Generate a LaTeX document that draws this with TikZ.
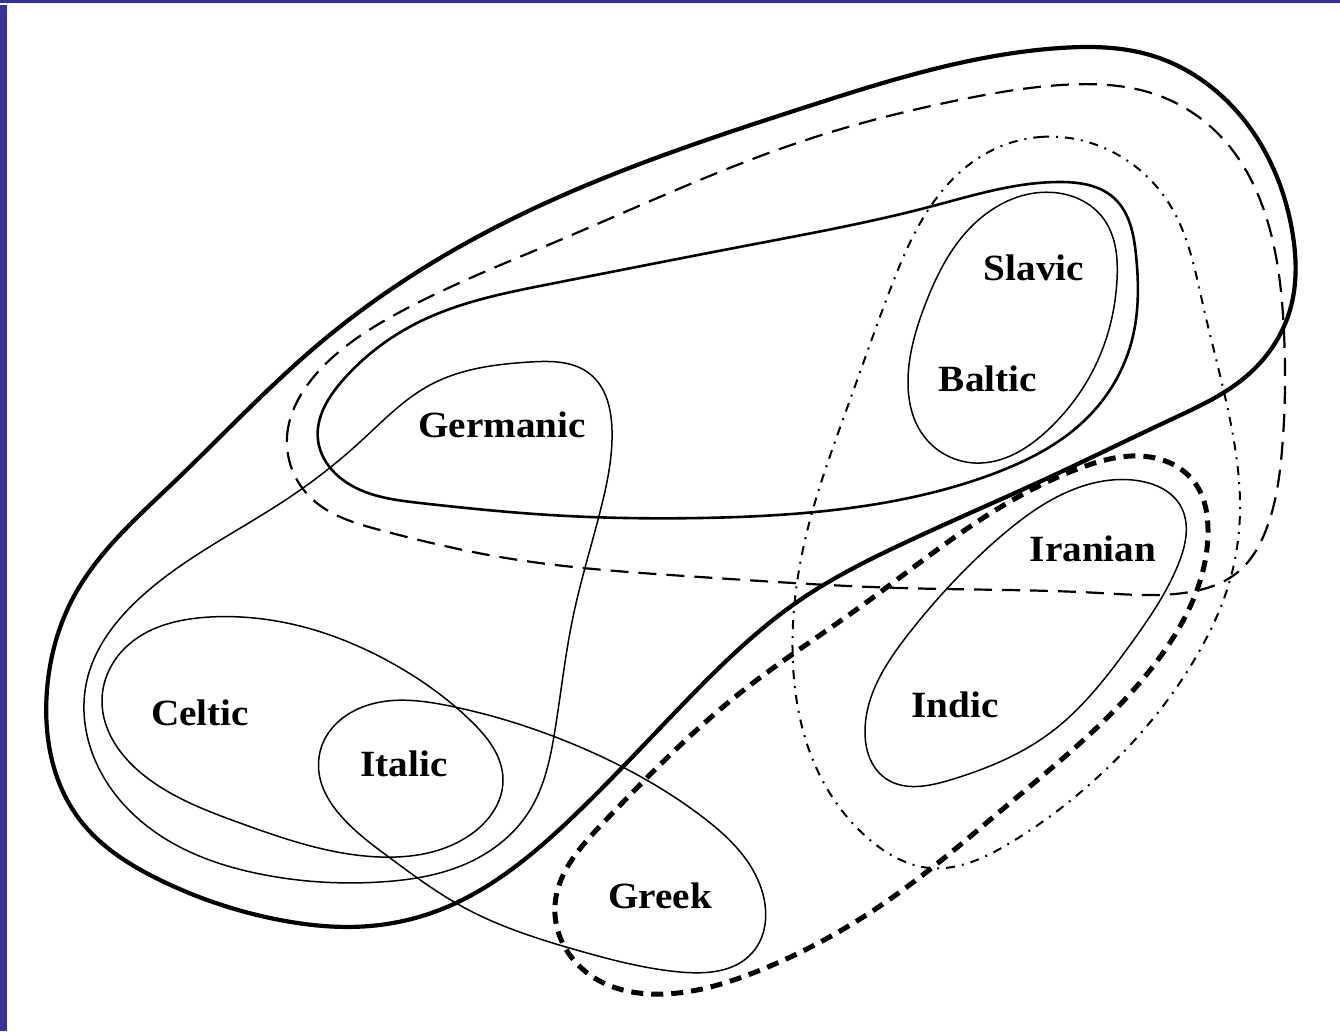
\documentclass[tikz,border=0pt]{standalone}
\usepackage{fontspec}
\usetikzlibrary{hobby}
\newfontfamily\lblfont[FakeStretch=1.06]{Liberation Serif}
\definecolor{framecol}{RGB}{51,51,153}
\begin{document}
\begin{tikzpicture}[x=1pt,y=-1pt,
  curvy/.style={use Hobby shortcut, closed=true},
  thickline/.style={curvy, line width=4.2pt, line join=round},
  midline/.style={curvy, line width=2.6pt},
  thinline/.style={curvy, line width=1.5pt},
  dashline/.style={curvy, line width=2.2pt, dash pattern=on 18pt off 10pt},
  bolddash/.style={curvy, line width=5pt, dash pattern=on 12pt off 8pt},
  dashdotline/.style={curvy, line width=2pt, dash pattern=on 9pt off 7pt on 2pt off 7pt},
  lbl/.style={font=\lblfont\fontsize{37}{42}\selectfont\bfseries, inner sep=0pt}]
\fill[white] (0,0) rectangle (1340,1031);
\useasboundingbox (0,0) rectangle (1340,1031);
\fill[framecol] (0,0) rectangle (1340,2.5);
\fill[framecol] (0,5) rectangle (7,1031);

% outer thick loop
\draw[thickline] (47,690) .. (73,598) .. (173,483) .. (320,343) .. (500,225)
 .. (806,107) .. (1060,48) .. (1150,55) .. (1240,115) .. (1292,230) .. (1290,310)
 .. (1250,373) .. (1170,420) .. (1050,477) .. (900,545) .. (800,600) .. (687,700)
 .. (580,810) .. (520,863) .. (447,907) .. (370,926) .. (280,920) .. (160,880)
 .. (80,820);

% dashed loop
\draw[dashline] (287,437) .. (317,373) .. (400,312) .. (560,240) .. (806,140)
 .. (959,100) .. (1061,85) .. (1160,96) .. (1230,147) .. (1270,230) .. (1284,333)
 .. (1282,450) .. (1266,530) .. (1238,572) .. (1190,592) .. (1100,593) .. (900,588)
 .. (700,577) .. (500,557) .. (380,530) .. (310,497);

% Balto-Slavic/Germanic solid loop
\draw[midline] (318,440) .. (343,380) .. (417,323) .. (550,284) .. (755,244)
 .. (929,207) .. (1061,182) .. (1114,198) .. (1136,255) .. (1132,340) .. (1090,415)
 .. (990,475) .. (850,508) .. (700,518) .. (550,515) .. (420,503) .. (343,480);

% Slavic / Baltic
\draw[thinline] (1058,193) .. (1103,218) .. (1117,280) .. (1098,360) .. (1050,428)
 .. (975,463) .. (923,435) .. (908,380) .. (925,305) .. (970,228);

% Germanic
\draw[thinline] (530,362) .. (590,374) .. (612,430) .. (600,512) .. (573,617)
 .. (555,730) .. (530,810) .. (470,862) .. (380,882) .. (260,874) .. (155,832)
 .. (95,760) .. (87,680) .. (142,596) .. (290,497) .. (360,442) .. (430,385);

% Celtic
\draw[thinline] (102,700) .. (150,780) .. (240,823) .. (380,857) .. (470,835)
 .. (503,780) .. (470,720) .. (390,662) .. (300,626) .. (210,617) .. (125,648);

% Italic / Greek
\draw[thinline] (320,752) .. (360,708) .. (450,706) .. (580,747) .. (700,815)
 .. (760,885) .. (752,953) .. (680,972) .. (580,951) .. (463,907) .. (382,852);

% Iranian / Indic
\draw[thinline] (1140,481) .. (1180,505) .. (1178,565) .. (1130,645) .. (1050,733)
 .. (950,780) .. (885,778) .. (865,730) .. (910,632) .. (1000,537) .. (1080,487);

% thick dashed loop (Indo-Iranian + Greek)
\draw[bolddash] (555,905) .. (603,823) .. (740,693) .. (860,607) .. (983,518)
 .. (1080,468) .. (1150,457) .. (1195,483) .. (1208,530) .. (1197,590)
 .. (1165,650) .. (1010,803) .. (893,897) .. (753,973) .. (665,994) .. (590,975);

% dash-dot loop
\draw[dashdotline] (1040,137) .. (1120,156) .. (1170,205) .. (1203,305) .. (1232,430)
 .. (1240,510) .. (1230,580) .. (1200,650) .. (1100,775) .. (1010,843) .. (930,868)
 .. (870,840) .. (815,765) .. (793,665) .. (805,540) .. (850,400) .. (890,290)
 .. (935,200) .. (980,157);

\node[lbl] (slavic) at (1034,268) {Slavic};
\node[lbl] (baltic) at (988,379) {Baltic};
\node[lbl] (germanic) at (502,425) {Germanic};
\node[lbl] (iranian) at (1093,549) {Iranian};
\node[lbl] (indic) at (955,705) {Indic};
\node[lbl] (celtic) at (200,713) {Celtic};
\node[lbl] (italic) at (404,764) {Italic};
\node[lbl] (greek) at (660,896) {Greek};
\end{tikzpicture}
\end{document}
